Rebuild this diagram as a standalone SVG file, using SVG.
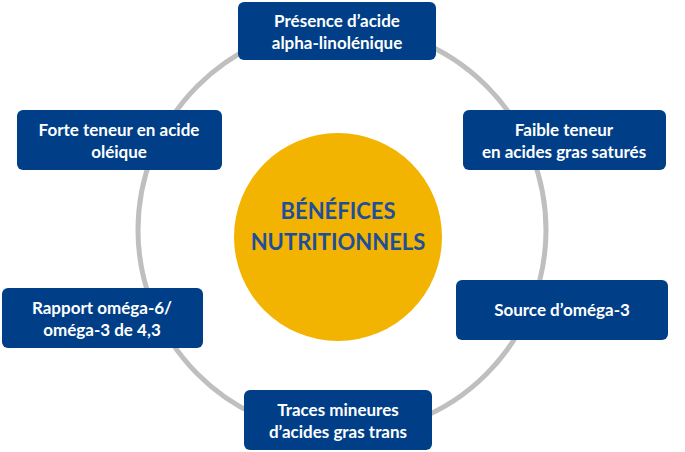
<svg xmlns="http://www.w3.org/2000/svg" width="685" height="452" viewBox="0 0 685 452">
<style>
.box{fill:#003f87;}
.t{font-family:Lato,"Liberation Sans",sans-serif;font-size:17px;font-weight:bold;fill:#fff;text-anchor:middle;}
.c{font-family:Lato,"Liberation Sans",sans-serif;font-size:22px;font-weight:bold;fill:#1f4e9a;text-anchor:middle;}
</style>
<rect width="685" height="452" fill="#fff"/>
<g id="connectors"><circle cx="342" cy="230" r="204" fill="none" stroke="#bfbfbf" stroke-width="5"/></g>
<g id="center"><circle cx="338" cy="237" r="104" fill="#f2b400"/><text class="c" x="338" y="219">BÉNÉFICES</text><text class="c" x="338" y="250">NUTRITIONNELS</text></g>
<g id="n1"><rect class="box" x="238" y="2" width="198" height="58" rx="6"/><text class="t" x="337" y="27">Présence d’acide</text><text class="t" x="337" y="49">alpha-linolénique</text></g>
<g id="n2"><rect class="box" x="17" y="110" width="205" height="60" rx="6"/><text class="t" x="119" y="136">Forte teneur en acide</text><text class="t" x="119" y="158">oléique</text></g>
<g id="n3"><rect class="box" x="463" y="110" width="203" height="60" rx="6"/><text class="t" x="564" y="136">Faible teneur</text><text class="t" x="564" y="158">en acides gras saturés</text></g>
<g id="n4"><rect class="box" x="2" y="288" width="201" height="60" rx="6"/><text class="t" x="102" y="314">Rapport oméga-6/</text><text class="t" x="102" y="336">oméga-3 de 4,3</text></g>
<g id="n5"><rect class="box" x="456" y="280" width="212" height="60" rx="6"/><text class="t" x="562" y="316">Source d’oméga-3</text></g>
<g id="n6"><rect class="box" x="244" y="390" width="188" height="60" rx="6"/><text class="t" x="338" y="416">Traces mineures</text><text class="t" x="338" y="438">d’acides gras trans</text></g>
</svg>
